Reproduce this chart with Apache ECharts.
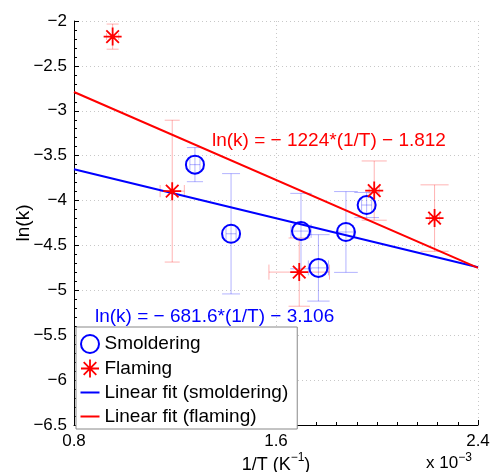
<!DOCTYPE html>
<html>
<head>
<meta charset="utf-8">
<script src="https://cdn.jsdelivr.net/npm/echarts@6/dist/echarts.min.js"></script>
<style>
  html, body { margin: 0; padding: 0; background: #fff; }
  #chart { width: 492px; height: 472px; }
</style>
</head>
<body>
<div id="chart"></div>
<script>
// Arrhenius plot: ln(k) against 1/T (1/T given in units of 1e-3 K^-1)
const smolderX    = [1.279, 1.422, 1.699, 1.768, 1.877, 1.959];
const smolderY    = [-3.60, -4.37, -4.34, -4.75, -4.35, -4.05];
const smolderYErr = [0.19, 0.67, 0.42, 0.37, 0.45, 0.14];
const smolderXErr = [0.02, 0.02, 0.04, 0.04, 0.03, 0.02];

const flameX    = [0.953, 1.189, 1.692, 1.989, 2.228];
const flameY    = [-2.174, -3.895, -4.797, -3.889, -4.195];
const flameYErr = [0.14, 0.79, 0.38, 0.33, 0.37];
const flameXErr = [0.024, 0.048, 0.12, 0.02, 0.02];

// Linear fits: ln(k) = slope * (1/T) + intercept, with 1/T in K^-1
const smolderFit = { slope: -681.6, intercept: -3.106 };
const flameFit   = { slope: -1224,  intercept: -1.812 };

const xRange = [0.8, 2.4];
const yRange = [-6.5, -2];

const FONT = '"Liberation Sans", Arial, sans-serif';
const BLUE = '#0000ff';
const RED = '#ff0000';

function fitLine(fit) {
  return xRange.map(x => [x, fit.slope * x * 1e-3 + fit.intercept]);
}

function points(xs, ys) { return xs.map((x, i) => [x, ys[i]]); }
function errRows(xs, ys, ex, ey) { return xs.map((x, i) => [x, ys[i], ex[i], ey[i]]); }

function minusSign(v) { return String(v).replace('-', '\u2212'); }

// Error bars in both directions, with caps
function errorBars(color) {
  return function (params, api) {
    const x = api.value(0), y = api.value(1), ex = api.value(2), ey = api.value(3);
    const capX = 0.025 * x;
    const capY = 0.0175 * Math.abs(y);
    const p = (a, b) => api.coord([a, b]);
    const seg = (a, b) => ({
      type: 'line',
      shape: { x1: a[0], y1: a[1], x2: b[0], y2: b[1] },
      style: { stroke: color, lineWidth: 1 }
    });
    return {
      type: 'group',
      children: [
        seg(p(x, y - ey), p(x, y + ey)),
        seg(p(x - capX, y + ey), p(x + capX, y + ey)),
        seg(p(x - capX, y - ey), p(x + capX, y - ey)),
        seg(p(x - ex, y), p(x + ex, y)),
        seg(p(x - ex, y - capY), p(x - ex, y + capY)),
        seg(p(x + ex, y - capY), p(x + ex, y + capY))
      ]
    };
  };
}

// eight-spoke asterisk marker
const ASTERISK = 'path://M9,0 L11,0 L11,20 L9,20 Z M0,9 L20,9 L20,11 L0,11 Z ' +
  'M3.7,2.3 L17.7,16.3 L16.3,17.7 L2.3,3.7 Z M16.3,2.3 L17.7,3.7 L3.7,17.7 L2.3,16.3 Z';
// short horizontal stroke for the fit-line legend entries
const DASH = 'path://M0,0 L19,0 L19,2 L0,2 Z';

const chart = echarts.init(document.getElementById('chart'));

chart.setOption({
  backgroundColor: '#fff',
  animation: false,
  textStyle: { fontFamily: FONT },
  grid: { left: 74, right: 14, top: 21, bottom: 47, containLabel: false, outerBoundsMode: 'none' },
  xAxis: {
    type: 'value',
    min: xRange[0], max: xRange[1], interval: 0.8,
    name: '{a|1/T (K}{b|\u22121}{a|)}',
    nameLocation: 'middle',
    nameGap: 27,
    nameMoveOverlap: false,
    nameTextStyle: {
      rich: {
        a: { fontSize: 18, color: '#000', fontFamily: FONT, lineHeight: 22, verticalAlign: 'bottom' },
        b: { fontSize: 12, color: '#000', fontFamily: FONT, lineHeight: 22, verticalAlign: 'top' }
      }
    },
    axisLine: { show: true, lineStyle: { color: '#000', width: 1 } },
    axisTick: { show: true, inside: true, length: 5, lineStyle: { color: '#000' } },
    minorTick: { show: true, splitNumber: 10, length: 3, lineStyle: { color: '#000' } },
    axisLabel: { color: '#000', fontSize: 17, margin: 8, formatter: v => v.toFixed(1) },
    splitLine: { show: true, lineStyle: { color: '#c8c8c8', type: [1, 3] } }
  },
  yAxis: {
    type: 'value',
    min: yRange[0], max: yRange[1], interval: 0.5,
    name: 'ln(k)',
    nameLocation: 'middle',
    nameGap: 41,
    nameMoveOverlap: false,
    nameTextStyle: { fontSize: 19, color: '#000' },
    axisLine: { show: true, lineStyle: { color: '#000', width: 1 } },
    axisTick: { show: true, inside: true, length: 5, lineStyle: { color: '#000' } },
    minorTick: { show: true, splitNumber: 5, length: 3, lineStyle: { color: '#000' } },
    axisLabel: { color: '#000', fontSize: 17, margin: 7, formatter: v => minusSign(v) },
    splitLine: { show: true, lineStyle: { color: '#c8c8c8', type: [1, 3] } }
  },
  legend: {
    orient: 'vertical',
    left: 76, top: 327,
    backgroundColor: '#fff',
    borderColor: '#888',
    borderWidth: 1,
    borderRadius: 0,
    padding: [7, 9, 3, 4],
    itemWidth: 19,
    itemHeight: 18,
    itemGap: 5,
    textStyle: { fontSize: 19, color: '#000', fontFamily: FONT },
    data: [
      { name: 'Smoldering', icon: 'circle',
        itemStyle: { color: 'rgba(0,0,0,0)', borderColor: BLUE, borderWidth: 2 } },
      { name: 'Flaming', icon: ASTERISK, itemStyle: { color: RED } },
      { name: 'Linear fit (smoldering)', icon: DASH, itemStyle: { color: BLUE, borderWidth: 0 } },
      { name: 'Linear fit (flaming)', icon: DASH, itemStyle: { color: RED, borderWidth: 0 } }
    ]
  },
  graphic: [
    {
      type: 'text', left: 212, top: 131, z: 50,
      style: { text: 'ln(k) = \u2212 1224*(1/T) \u2212 1.812', fill: RED, font: '19px ' + FONT }
    },
    {
      type: 'text', left: 95, top: 307, z: 50,
      style: { text: 'ln(k) = \u2212 681.6*(1/T) \u2212 3.106', fill: BLUE, font: '19px ' + FONT }
    },
    {
      type: 'text', left: 426, top: 452, z: 50,
      style: {
        text: '{a|x 10}{b|\u22123}',
        rich: {
          a: { fontSize: 17, fill: '#000', fontFamily: FONT, lineHeight: 20, verticalAlign: 'bottom' },
          b: { fontSize: 12, fill: '#000', fontFamily: FONT, lineHeight: 20, verticalAlign: 'top' }
        }
      }
    }
  ],
  series: [
    {
      type: 'custom', name: 'smolder-err', silent: true, z: 1,
      renderItem: errorBars('rgba(0,0,255,0.3)'),
      encode: { x: 0, y: 1 },
      data: errRows(smolderX, smolderY, smolderXErr, smolderYErr)
    },
    {
      type: 'custom', name: 'flame-err', silent: true, z: 1,
      renderItem: errorBars('rgba(255,0,0,0.3)'),
      encode: { x: 0, y: 1 },
      data: errRows(flameX, flameY, flameXErr, flameYErr)
    },
    {
      type: 'line', name: 'Linear fit (smoldering)', z: 3,
      data: fitLine(smolderFit), symbol: 'none',
      lineStyle: { color: BLUE, width: 2 }, itemStyle: { color: BLUE }
    },
    {
      type: 'line', name: 'Linear fit (flaming)', z: 3,
      data: fitLine(flameFit), symbol: 'none',
      lineStyle: { color: RED, width: 2 }, itemStyle: { color: RED }
    },
    {
      type: 'scatter', name: 'Smoldering', z: 4,
      data: points(smolderX, smolderY),
      symbol: 'circle', symbolSize: 18,
      itemStyle: { color: 'rgba(0,0,0,0)', borderColor: BLUE, borderWidth: 2, opacity: 1 }
    },
    {
      type: 'scatter', name: 'Flaming', z: 4,
      data: points(flameX, flameY),
      symbol: ASTERISK, symbolSize: 18,
      itemStyle: { color: RED, opacity: 1 }
    }
  ]
});
</script>
</body>
</html>
